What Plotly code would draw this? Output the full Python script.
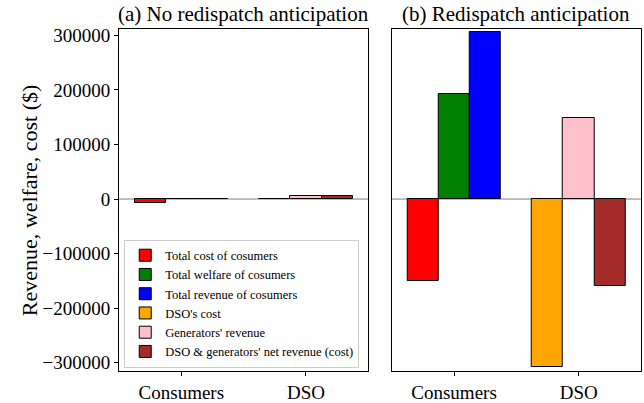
import plotly.graph_objects as go
from plotly.subplots import make_subplots

# Categories on the x axis and the series drawn in each group
categories = ["Consumers", "DSO"]
series_names = [
    "Total cost of cosumers",
    "Total welfare of cosumers",
    "Total revenue of cosumers",
    "DSO's cost",
    "Generators' revenue",
    "DSO & generators' net revenue (cost)",
]
# which category each series belongs to
series_category = ["Consumers", "Consumers", "Consumers", "DSO", "DSO", "DSO"]
series_colors = ["red", "green", "blue", "orange", "pink", "brown"]

# Values ($) for each case
no_anticipation = [-7500, 1000, -600, -800, 5200, 4800]
with_anticipation = [-150500, 193000, 305500, -307000, 148000, -159000]

panel_titles = ["(a) No redispatch anticipation", "(b) Redispatch anticipation"]
y_ticks = [-300000, -200000, -100000, 0, 100000, 200000, 300000]

FONT = "Liberation Serif, Times New Roman, serif"
BAR_W = 0.25

fig = make_subplots(rows=1, cols=2, shared_yaxes=True, horizontal_spacing=0.045)

for col, values in enumerate([no_anticipation, with_anticipation], start=1):
    slot = {c: 0 for c in categories}
    for name, cat, color, val in zip(series_names, series_category, series_colors, values):
        k = slot[cat]
        slot[cat] += 1
        xpos = categories.index(cat) + (k - 1) * BAR_W
        fig.add_trace(
            go.Bar(
                x=[xpos],
                y=[val],
                width=BAR_W,
                name=name,
                marker=dict(color=color, line=dict(color="black", width=1)),
                showlegend=(col == 1),
                legendgroup=name,
            ),
            row=1,
            col=col,
        )
    # horizontal reference line at zero
    fig.add_shape(
        type="line", xref=f"x{'' if col == 1 else col} domain", yref=f"y{'' if col == 1 else col}",
        x0=0, x1=1, y0=0, y1=0, line=dict(color="gray", width=1), layer="below",
    )

for col in (1, 2):
    fig.update_xaxes(
        range=[-0.5, 1.5],
        tickvals=list(range(len(categories))),
        ticktext=categories,
        ticks="outside",
        ticklen=4,
        tickcolor="black",
        showline=True,
        linecolor="black",
        linewidth=1,
        mirror=True,
        showgrid=False,
        zeroline=False,
        automargin=False,
        tickfont=dict(family=FONT, size=19, color="black"),
        row=1,
        col=col,
    )
    fig.update_yaxes(
        range=[-315000, 311500],
        tickvals=y_ticks,
        tickformat="d",
        showline=True,
        linecolor="black",
        linewidth=1,
        mirror=True,
        showgrid=False,
        zeroline=False,
        automargin=False,
        tickfont=dict(family=FONT, size=19, color="black"),
        row=1,
        col=col,
    )

fig.update_yaxes(ticks="outside", ticklen=4, tickcolor="black", row=1, col=1)
fig.update_yaxes(ticks="", showticklabels=False, row=1, col=2)

# y axis label, placed to the left of the tick labels
fig.add_annotation(
    text="Revenue, welfare, cost ($)", xref="paper", yref="paper",
    x=-0.172, y=0.5, xanchor="center", yanchor="middle", textangle=-90,
    showarrow=False, font=dict(family=FONT, size=22, color="black"),
)

# panel titles
for i, t in enumerate(panel_titles):
    dom = fig.layout["xaxis" if i == 0 else "xaxis2"].domain
    fig.add_annotation(
        text=t, xref="paper", yref="paper", x=(dom[0] + dom[1]) / 2, y=1.0,
        xanchor="center", yanchor="bottom", yshift=1, showarrow=False,
        font=dict(family=FONT, size=21, color="black"),
    )

fig.update_layout(
    width=644,
    height=403,
    margin=dict(l=119, r=3, t=29, b=32),
    plot_bgcolor="white",
    paper_bgcolor="white",
    barmode="overlay",
    bargap=0,
    font=dict(family=FONT, color="black"),
    legend=dict(
        x=0.01, y=0.01, xanchor="left", yanchor="bottom",
        bgcolor="rgba(255,255,255,0.8)", bordercolor="#cccccc", borderwidth=1,
        font=dict(family=FONT, size=12.5, color="black"),
        tracegroupgap=0,
    ),
)

fig.write_html("out.html")
